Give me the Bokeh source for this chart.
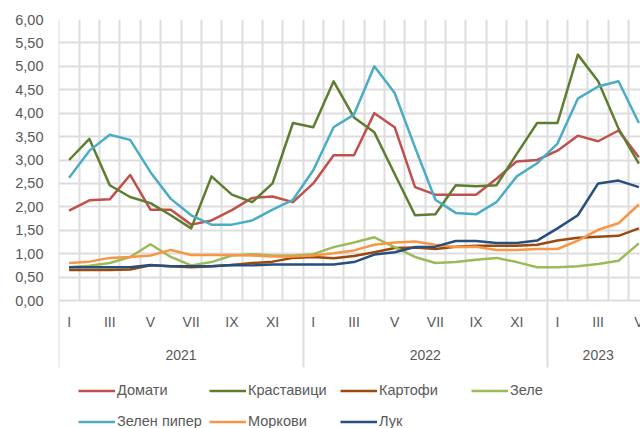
from bokeh.plotting import figure
from bokeh.models import Range1d, FixedTicker, Legend, LegendItem, CustomJSTickFormatter, Grid
from bokeh.core.properties import value
from bokeh.embed import file_html
from bokeh.resources import INLINE

# ---------------- data ----------------
years = ["2021", "2022", "2023"]
months_per_year = [12, 12, 5]
month_names = ["I", "II", "III", "IV", "V", "VI", "VII", "VIII", "IX", "X", "XI", "XII"]

domati = [1.92, 2.14, 2.16, 2.68, 1.94, 1.94, 1.62, 1.71, 1.93, 2.19, 2.22, 2.10,
          2.50, 3.10, 3.10, 4.00, 3.70, 2.42, 2.26, 2.26, 2.26, 2.60, 2.97, 3.00,
          3.20, 3.52, 3.40, 3.63, 3.06]
krastavitsi = [3.00, 3.45, 2.46, 2.21, 2.08, 1.82, 1.54, 2.65, 2.26, 2.10, 2.50, 3.79,
               3.70, 4.68, 3.91, 3.59, 2.70, 1.82, 1.84, 2.46, 2.44, 2.46, 3.13, 3.79,
               3.79, 5.25, 4.68, 3.67, 2.92]
kartofi = [0.65, 0.65, 0.65, 0.66, 0.75, 0.73, 0.71, 0.73, 0.76, 0.80, 0.83, 0.91,
           0.93, 0.90, 0.95, 1.03, 1.12, 1.13, 1.10, 1.15, 1.17, 1.17, 1.17, 1.19,
           1.28, 1.34, 1.36, 1.38, 1.54]
zele = [0.71, 0.74, 0.80, 0.93, 1.20, 0.93, 0.75, 0.82, 0.96, 0.99, 0.96, 0.96,
        0.99, 1.14, 1.24, 1.35, 1.14, 0.93, 0.80, 0.82, 0.87, 0.91, 0.82, 0.71,
        0.71, 0.73, 0.78, 0.85, 1.22]
zelen_piper = [2.62, 3.20, 3.54, 3.43, 2.74, 2.17, 1.82, 1.62, 1.62, 1.71, 1.94, 2.15,
               2.78, 3.70, 3.97, 5.00, 4.43, 3.27, 2.15, 1.87, 1.84, 2.10, 2.65, 2.93,
               3.35, 4.31, 4.57, 4.68, 3.79]
morkovi = [0.80, 0.83, 0.91, 0.93, 0.96, 1.08, 0.97, 0.97, 0.97, 0.96, 0.94, 0.94,
           0.96, 1.01, 1.07, 1.19, 1.24, 1.26, 1.19, 1.14, 1.15, 1.08, 1.08, 1.10,
           1.10, 1.28, 1.51, 1.65, 2.05]
luk = [0.71, 0.71, 0.71, 0.71, 0.76, 0.73, 0.73, 0.73, 0.76, 0.75, 0.77, 0.77,
       0.77, 0.77, 0.82, 0.98, 1.03, 1.14, 1.15, 1.27, 1.27, 1.23, 1.23, 1.28,
       1.54, 1.82, 2.50, 2.56, 2.42]

series_names = ["Домати", "Краставици", "Картофи", "Зеле", "Зелен пипер", "Моркови", "Лук"]
series_values = [domati, krastavitsi, kartofi, zele, zelen_piper, morkovi, luk]
series_colors = ["#C0504D", "#5F7D30", "#9A4A0D", "#9BBB59", "#4BACC6", "#F79646", "#264E7E"]

y_ticks = [0.0, 0.5, 1.0, 1.5, 2.0, 2.5, 3.0, 3.5, 4.0, 4.5, 5.0, 5.5, 6.0]

# ---------------- layout helpers ----------------
FONT = "Liberation Sans"
FS = "14px"
FS_LEG = "14.5px"
TXT = "#595959"
GRID = "#DDDDDD"
GRID_W = 2
PX_PER_UNIT = 281.0 / 6.0          # vertical scale of the value axis
FRAME_H = 409
Y_TOP = 6.0
Y_BOTTOM = Y_TOP - FRAME_H / PX_PER_UNIT
MONTH_LABEL_Y = -21.7 / PX_PER_UNIT
YEAR_LABEL_Y = -54.0 / PX_PER_UNIT
SEP_BOTTOM = -67.0 / PX_PER_UNIT

n = sum(months_per_year)
xs = [i + 0.5 for i in range(n)]

p = figure(width=640, height=428, x_range=Range1d(-0.02, 28.58), y_range=Range1d(Y_BOTTOM, Y_TOP),
           output_backend="svg", toolbar_location=None, x_axis_location=None,
           min_border_left=58, min_border_right=0, min_border_top=19, min_border_bottom=0)
p.outline_line_color = None
p.background_fill_color = "white"
p.border_fill_color = "white"

# y axis
p.yaxis.ticker = FixedTicker(ticks=y_ticks)
p.yaxis.formatter = CustomJSTickFormatter(code="return tick.toFixed(2).replace('.', ',');")
p.yaxis.axis_line_color = None
p.yaxis.major_tick_line_color = None
p.yaxis.minor_tick_line_color = None
p.yaxis.major_tick_out = 0
p.yaxis.major_tick_in = 0
p.yaxis.major_label_standoff = 15
p.yaxis.major_label_text_font = FONT
p.yaxis.major_label_text_font_size = FS_LEG
p.yaxis.major_label_text_color = TXT

# horizontal grid
p.ygrid.ticker = FixedTicker(ticks=y_ticks)
p.ygrid.grid_line_color = GRID
p.ygrid.grid_line_width = GRID_W
p.xgrid.visible = False

# year starts
year_starts = []
acc = 0
for m in months_per_year:
    year_starts.append(acc)
    acc += m

bounds = list(range(0, n + 1))


def vertical_lines(ticks, lo, hi):
    g = Grid(dimension=0, ticker=FixedTicker(ticks=ticks), grid_line_color=GRID,
             grid_line_width=GRID_W)
    g.cross_bounds = (lo, hi)
    p.add_layout(g, "center")


# month boundaries inside the value area, year separators under the axis
vertical_lines(bounds, y_ticks[0], y_ticks[-1])
vertical_lines(year_starts, SEP_BOTTOM, y_ticks[0])

# month labels (every other month)
mx, mt = [], []
i = 0
for m in months_per_year:
    for k in range(m):
        if k % 2 == 0:
            mx.append(i + 0.5)
            mt.append(month_names[k])
        i += 1
p.text(x=mx, y=[MONTH_LABEL_Y] * len(mx), text=mt, text_align="center", text_baseline="middle",
       text_font=value(FONT), text_font_size=FS, text_color=TXT)

# year labels
yx = [s + m / 2 for s, m in zip(year_starts, months_per_year)]
p.text(x=yx, y=[YEAR_LABEL_Y] * len(yx), text=years, text_align="center", text_baseline="middle",
       text_font=value(FONT), text_font_size=FS, text_color=TXT)

# series
items = []
for name, vals, col in zip(series_names, series_values, series_colors):
    r = p.line(xs, vals, line_color=col, line_width=2.5, line_join="round")
    items.append(LegendItem(label=name, renderers=[r]))

legend = Legend(items=items, orientation="horizontal", ncols=4, location=(20, -6.5),
                padding=0, spacing=4, glyph_width=37, glyph_height=27, label_height=27,
                label_width=88, label_standoff=2, background_fill_alpha=0,
                border_line_color=None, label_text_font=FONT, label_text_font_size=FS_LEG,
                label_text_color=TXT, click_policy="none")
p.add_layout(legend)

open("out.html", "w").write(file_html(p, INLINE))
